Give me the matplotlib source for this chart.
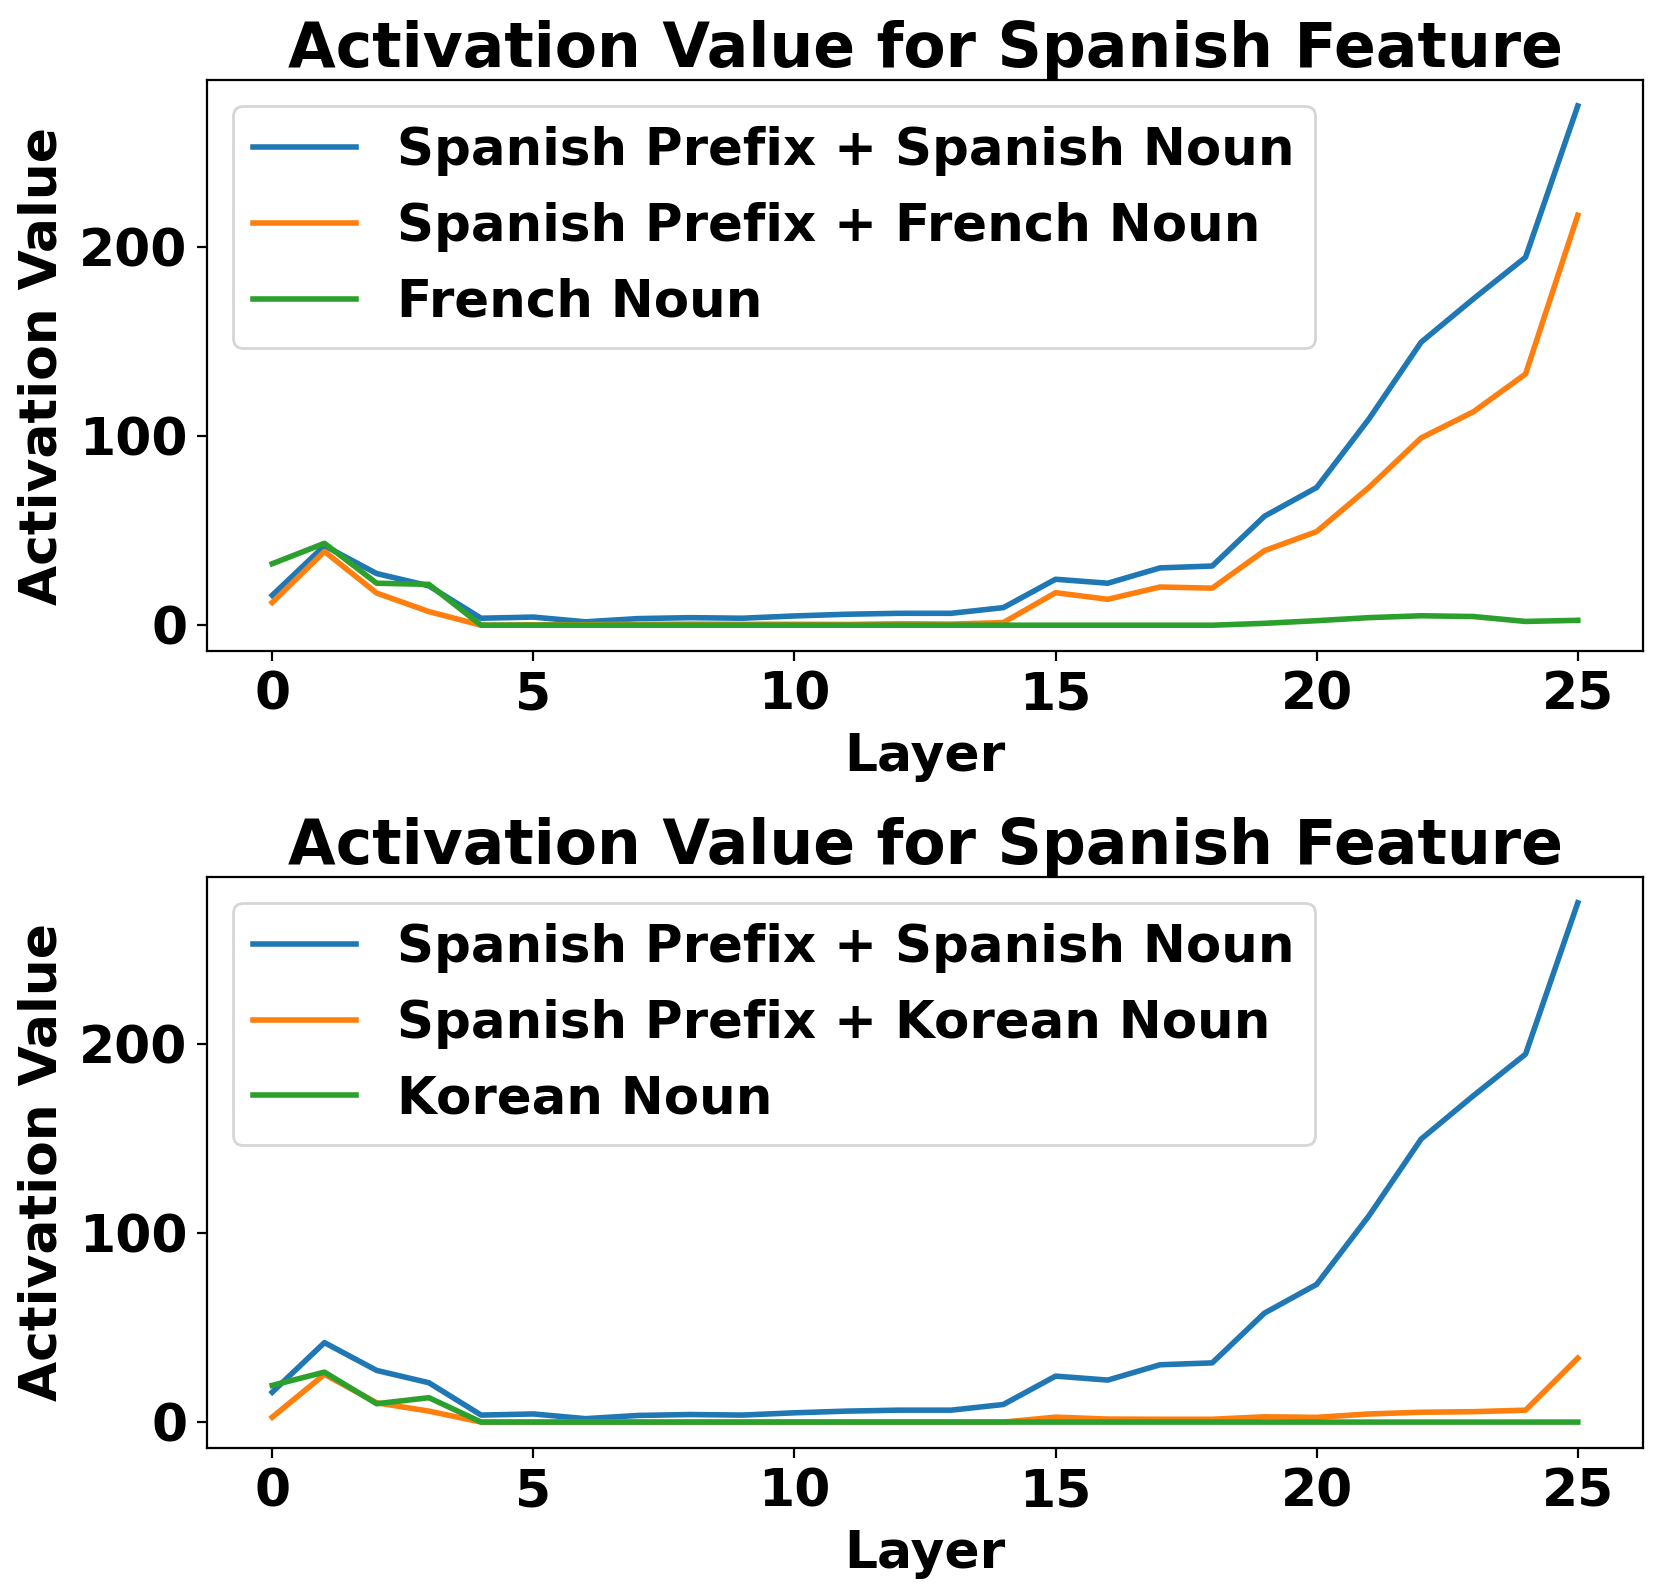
import matplotlib
matplotlib.use("Agg")
import matplotlib.pyplot as plt

layers = list(range(26))

spanish_noun = [15.8, 42.0, 27.3, 20.8, 3.7, 4.3, 1.8, 3.5, 4.0, 3.7, 4.9, 5.8, 6.3, 6.3,
                9.3, 24.3, 22.2, 30.3, 31.3, 57.6, 72.8, 109.0, 149.6, 172.5, 194.5, 274.5]
french_with_prefix = [12.0, 39.0, 17.0, 7.2, 0.0, 0.2, 0.3, 0.5, 0.6, 0.5, 0.5, 0.4, 0.8, 0.6,
                      1.4, 17.2, 13.7, 20.2, 19.6, 39.4, 49.5, 72.8, 99.0, 112.8, 132.8, 216.7]
french_noun = [32.5, 43.3, 22.2, 21.6, 0.0, 0.0, 0.0, 0.0, 0.0, 0.0, 0.0, 0.0, 0.0, 0.0,
               0.0, 0.0, 0.0, 0.0, 0.0, 1.0, 2.4, 4.0, 5.0, 4.6, 2.0, 2.6]
korean_with_prefix = [2.6, 25.2, 10.2, 5.8, 0.0, 0.0, 0.0, 0.0, 0.0, 0.0, 0.0, 0.0, 0.0, 0.0,
                      0.0, 2.6, 1.6, 1.5, 1.5, 2.8, 2.5, 4.3, 5.2, 5.5, 6.3, 33.8]
korean_noun = [19.4, 26.4, 9.7, 12.9, 0.0, 0.0, 0.0, 0.0, 0.0, 0.0, 0.0, 0.0, 0.0, 0.0,
               0.0, 0.0, 0.0, 0.0, 0.0, 0.0, 0.0, 0.0, 0.0, 0.0, 0.0, 0.0]

panels = [
    (["Spanish Prefix + Spanish Noun", "Spanish Prefix + French Noun", "French Noun"],
     [spanish_noun, french_with_prefix, french_noun]),
    (["Spanish Prefix + Spanish Noun", "Spanish Prefix + Korean Noun", "Korean Noun"],
     [spanish_noun, korean_with_prefix, korean_noun]),
]

plt.rcParams['font.weight'] = 'bold'
plt.rcParams['axes.labelweight'] = 'bold'
plt.rcParams['axes.titleweight'] = 'bold'

fig, axes = plt.subplots(2, 1, figsize=(8.305, 7.98), dpi=200)
fig.subplots_adjust(left=0.1246, right=0.9892, top=0.9499, bottom=0.0927, hspace=0.395)

for ax, (labels, series) in zip(axes, panels):
    for label, values in zip(labels, series):
        ax.plot(layers, values, label=label, linewidth=2)
    ax.set_title("Activation Value for Spanish Feature", fontsize=22.2, pad=1)
    ax.set_xlabel("Layer", fontsize=18.7)
    ax.set_ylabel("Activation Value", fontsize=18.7)
    ax.tick_params(labelsize=18.7)
    ax.legend(fontsize=18.5, loc='upper left')

fig.savefig("out.png", dpi=200)
